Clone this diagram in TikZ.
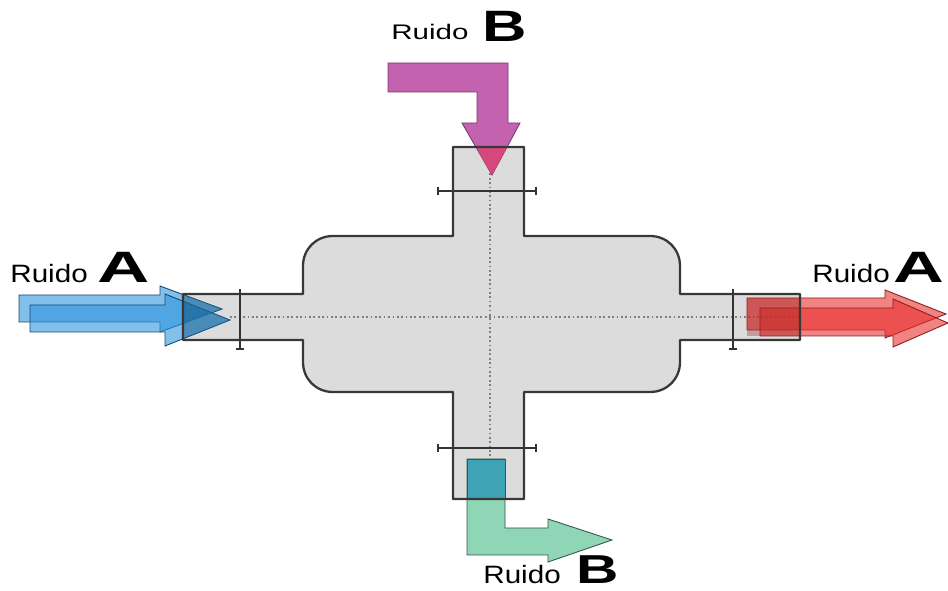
\documentclass[tikz,border=0pt]{standalone}
\usepackage{fontspec}
\setmainfont{Liberation Sans}

\definecolor{cuerpo}{HTML}{DCDCDC}
\definecolor{borde}{HTML}{383838}
\definecolor{azul}{HTML}{2E95DC}
\definecolor{rojo}{HTML}{E8302E}
\definecolor{violeta}{HTML}{C462B0}
\definecolor{rosa}{HTML}{D6487C}
\definecolor{verde}{HTML}{8ED6B6}
\definecolor{turquesa}{HTML}{3EA3B5}

\tikzset{
  eje/.style={gray, line width=0.6pt, dash pattern=on 1pt off 1.5pt},
  cota/.style={black!80, line width=0.6pt},
  flecha/.style={line width=0.5pt, fill opacity=0.6},
  ruido/.style={inner sep=0pt, anchor=base west, font=\fontsize{14.3}{14.3}\selectfont},
  letra/.style={inner sep=0pt, anchor=base west, font=\fontsize{25}{25}\selectfont\bfseries},
}
\newcommand{\ancho}[2]{\scalebox{#1}[1]{#2}}
\newcommand{\cruz}{(183,294) -- (303,294) -- (303,266)
  .. controls (303,249) and (316,236) .. (333,236) -- (453,236) -- (453,147)
  -- (524,147) -- (524,236) -- (650,236) .. controls (667,236) and (680,249) .. (680,266)
  -- (680,294) -- (800,294) -- (800,340) -- (680,340) -- (680,362)
  .. controls (680,379) and (667,392) .. (650,392) -- (524,392) -- (524,499)
  -- (453,499) -- (453,392) -- (333,392) .. controls (316,392) and (303,379) .. (303,362)
  -- (303,340) -- (183,340) -- cycle}

\begin{document}
\begin{tikzpicture}[x=0.02cm, y=-0.02cm]
  \useasboundingbox (0,0) rectangle (948,591);

  % cuerpo
  \fill[cuerpo] \cruz;
  \draw[eje] (230,317) -- (800,317);
  \draw[eje] (490,147) -- (490,499);

  % cotas
  \draw[cota] (240,289) -- (240,349) (236,349) -- (244,349);
  \draw[cota] (733,289) -- (733,349) (729,349) -- (737,349);
  \draw[cota] (438,191) -- (536,191) (438,187) -- (438,195) (536,187) -- (536,195);
  \draw[cota] (438,448) -- (536,448) (438,444) -- (438,452) (536,444) -- (536,452);

  % ruido A entrada
  \draw[flecha, draw=azul!50!black, fill=azul] (19,295) -- (160,295) -- (160,286) -- (222,309) -- (160,332) -- (160,322) -- (19,322) -- cycle;
  \draw[flecha, draw=azul!50!black, fill=azul] (30,305) -- (165,305) -- (165,294) -- (230,320) -- (165,346) -- (165,332) -- (30,332) -- cycle;
  \begin{scope}
    \clip (183,294) rectangle (240,340);
    \fill[azul!70!black, opacity=0.5] (160,286) -- (222,309) -- (160,332) -- cycle;
    \fill[azul!70!black, opacity=0.5] (165,294) -- (230,320) -- (165,346) -- cycle;
  \end{scope}

  % ruido A salida
  \draw[flecha, draw=rojo!60!black, fill=rojo] (747,298) -- (885,298) -- (885,290) -- (946,314) -- (885,338) -- (885,330) -- (747,330) -- cycle;
  \draw[flecha, draw=rojo!60!black, fill=rojo] (760,308) -- (893,308) -- (893,299) -- (948,323) -- (893,347) -- (893,336) -- (760,336) -- cycle;
  \fill[rojo!70!black, opacity=0.35] (747,298) rectangle (800,336);

  % ruido B entrada
  \draw[line width=0.5pt, draw=violeta!60!black, fill=violeta] (388,63) -- (508,63) -- (508,123) -- (520,123) -- (492,175) -- (462,123) -- (477,123) -- (477,92) -- (388,92) -- cycle;
  \begin{scope}
    \clip (453,147) rectangle (524,200);
    \fill[rosa] (462,123) -- (520,123) -- (492,175) -- cycle;
  \end{scope}

  % ruido B salida
  \draw[line width=0.5pt, draw=verde!40!black, fill=verde] (467,459) -- (505,459) -- (505,528) -- (548,528) -- (548,519) -- (612,540) -- (548,562) -- (548,555) -- (467,555) -- cycle;
  \draw[line width=0.5pt, draw=verde!40!black, fill=turquesa] (467,459) rectangle (505,499);

  % contorno
  \draw[borde, line width=1.3pt, line join=round] \cruz;

  % textos
  \node[ruido] (ruidoA1) at (10,283) {\ancho{1.18}{Ruido}};
  \node[letra] (letraA1) at (97,283) {\ancho{1.65}{A}};
  \node[ruido] (ruidoA2) at (812,283) {\ancho{1.18}{Ruido}};
  \node[letra] (letraA2) at (893,283) {\ancho{1.6}{A}};
  \node[ruido, font=\fontsize{12}{12}\selectfont] (ruidoB1) at (391,40) {\ancho{1.4}{Ruido}};
  \node[letra] (letraB1) at (482,42) {\ancho{1.4}{B}};
  \node[ruido] (ruidoB2) at (483,584) {\ancho{1.18}{Ruido}};
  \node[letra, font=\fontsize{23}{23}\selectfont\bfseries] (letraB2) at (576,584) {\ancho{1.45}{B}};
\end{tikzpicture}
\end{document}
